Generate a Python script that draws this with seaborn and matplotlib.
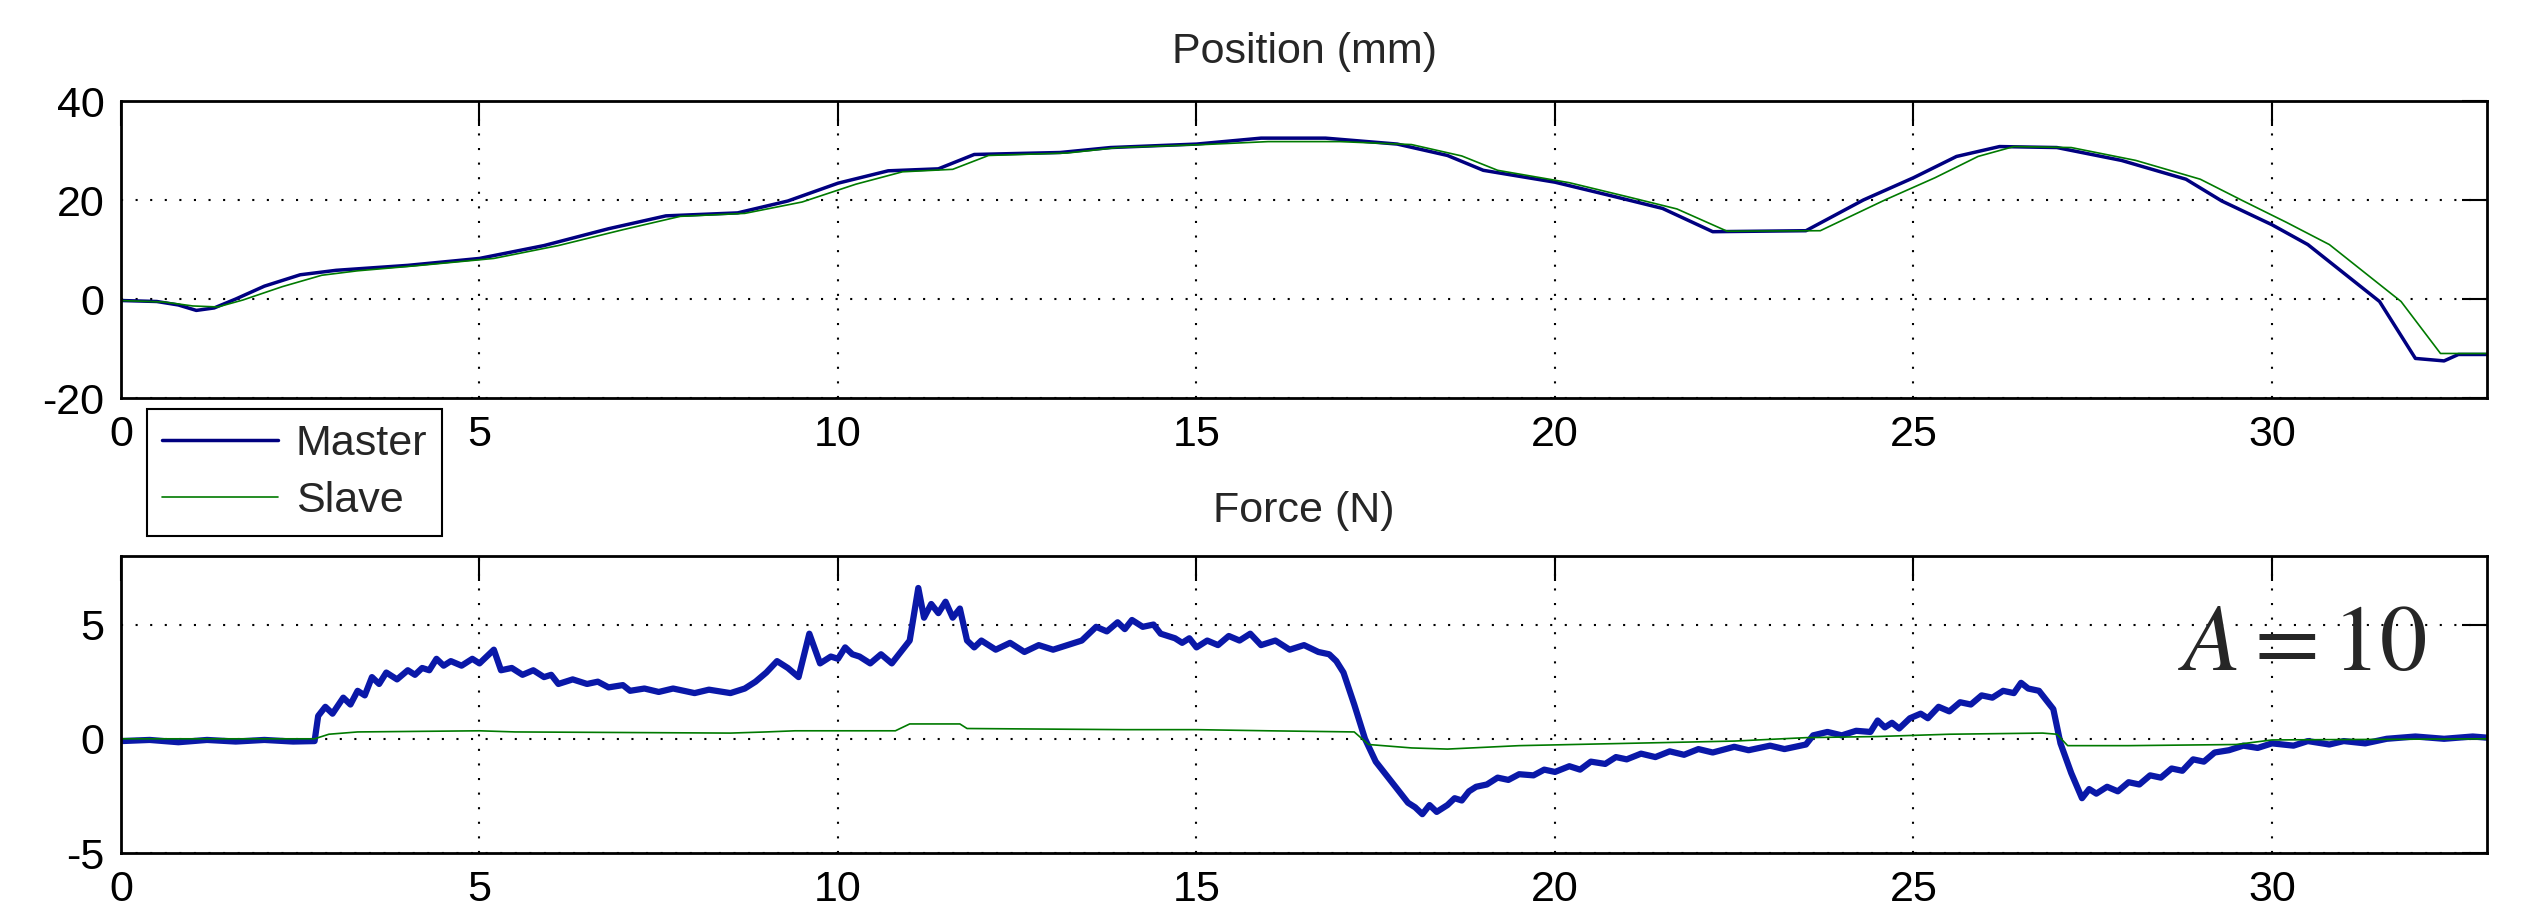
import matplotlib
matplotlib.use("Agg")
import matplotlib.pyplot as plt
import seaborn as sns

# position (mm) -- master leads the slave by a fraction of a second
pos_master_t = [0.0, 0.5, 0.8, 1.05, 1.3, 1.6, 2.0, 2.5, 3.0, 4.0, 5.0, 5.9, 6.8, 7.6, 8.6,
                9.3, 10.0, 10.7, 11.4, 11.9, 13.1, 13.8, 15.0, 15.9, 16.8, 17.8, 18.5, 19.0,
                20.0, 20.8, 21.5, 22.2, 23.5, 24.3, 25.0, 25.6, 26.2, 27.0, 27.9, 28.8, 29.3,
                30.0, 30.5, 31.5, 32.0, 32.4, 32.6, 33.0]
pos_master = [-0.3, -0.5, -1.2, -2.3, -1.8, 0.0, 2.6, 4.9, 5.8, 6.8, 8.2, 10.8, 14.2, 16.8, 17.4,
              19.8, 23.4, 25.9, 26.3, 29.2, 29.6, 30.6, 31.3, 32.5, 32.5, 31.3, 29.0, 26.0,
              23.6, 20.8, 18.3, 13.6, 13.8, 20.0, 24.5, 28.8, 30.8, 30.6, 28.0, 24.2, 19.8,
              15.0, 11.0, -0.5, -12.0, -12.5, -11.2, -11.2]

pos_slave_t = [0.0, 0.6, 1.0, 1.35, 1.7, 2.25, 2.8, 3.3, 4.1, 5.2, 6.1, 7.0, 7.8, 8.7, 9.5,
               10.25, 10.9, 11.6, 12.1, 13.2, 13.9, 15.1, 16.0, 17.0, 18.0, 18.7, 19.2, 20.2,
               21.0, 21.7, 22.4, 23.7, 24.6, 25.3, 25.9, 26.4, 27.2, 28.1, 29.0, 29.6, 30.2,
               30.8, 31.8, 32.35, 33.0]
pos_slave = [-0.3, -0.6, -1.4, -1.6, -0.2, 2.5, 4.8, 5.7, 6.7, 8.2, 10.8, 14.0, 16.7, 17.3, 19.6,
             23.2, 25.7, 26.2, 29.0, 29.5, 30.6, 31.2, 31.8, 31.8, 31.2, 28.9, 26.0, 23.5,
             20.7, 18.2, 13.7, 13.8, 20.0, 24.5, 28.8, 30.8, 30.6, 28.0, 24.2, 19.8, 15.5,
             11.0, -0.5, -11.0, -11.0]

# force (N), master is the noisy one
force_master_t = [0.0, 0.4, 0.8, 1.2, 1.6, 2.0, 2.4, 2.7,
                  2.75, 2.85, 2.95, 3.1, 3.2, 3.3, 3.4, 3.5, 3.6, 3.7, 3.85, 4.0, 4.1, 4.2,
                  4.3, 4.4, 4.5, 4.6, 4.75, 4.9, 5.0, 5.1, 5.2, 5.3, 5.45, 5.6, 5.75, 5.9,
                  6.0, 6.1, 6.3, 6.5, 6.65, 6.8, 7.0, 7.1, 7.3, 7.5, 7.7, 8.0, 8.2, 8.5,
                  8.7, 8.85, 9.0, 9.15, 9.3, 9.45, 9.6, 9.75, 9.9, 10.0, 10.1, 10.2, 10.3,
                  10.45, 10.6, 10.75, 10.9, 11.0, 11.12, 11.2, 11.3, 11.4, 11.5, 11.6, 11.7,
                  11.8, 11.9, 12.0, 12.2, 12.4, 12.6, 12.8, 13.0, 13.2, 13.4, 13.5, 13.6,
                  13.75, 13.9, 14.0, 14.1, 14.25, 14.4, 14.5, 14.7, 14.8, 14.9, 15.0, 15.15,
                  15.3, 15.45, 15.6, 15.75, 15.9, 16.1, 16.3, 16.5, 16.7, 16.85, 16.95,
                  17.05, 17.2, 17.35, 17.5, 17.7, 17.85, 17.95, 18.05, 18.15, 18.25, 18.35,
                  18.5, 18.6, 18.7, 18.8, 18.9, 19.05, 19.2, 19.35, 19.5, 19.7, 19.85, 20.0,
                  20.2, 20.35, 20.5, 20.7, 20.85, 21.0, 21.2, 21.4, 21.6, 21.8, 22.0, 22.2,
                  22.5, 22.7, 23.0, 23.2, 23.5, 23.6, 23.8, 24.0, 24.2, 24.4, 24.5, 24.6,
                  24.7, 24.8, 24.95, 25.1, 25.2, 25.35, 25.5, 25.65, 25.8, 25.95, 26.1,
                  26.25, 26.4, 26.5, 26.6, 26.75, 26.85, 26.95, 27.05, 27.2, 27.35, 27.45,
                  27.55, 27.7, 27.85, 28.0, 28.15, 28.3, 28.45, 28.6, 28.75, 28.9, 29.05,
                  29.2, 29.4, 29.6, 29.8, 30.0, 30.3, 30.5, 30.8, 31.0, 31.3, 31.6, 32.0,
                  32.4, 32.8, 33.0]
force_master = [-0.1, -0.05, -0.15, -0.05, -0.12, -0.05, -0.12, -0.1,
                1.0, 1.4, 1.1, 1.8, 1.5, 2.1, 1.9, 2.7, 2.4, 2.9, 2.6, 3.0, 2.8, 3.1,
                3.0, 3.5, 3.2, 3.4, 3.2, 3.5, 3.3, 3.6, 3.9, 3.0, 3.1, 2.8, 3.0, 2.7,
                2.8, 2.4, 2.6, 2.4, 2.5, 2.25, 2.35, 2.1, 2.2, 2.05, 2.2, 2.0, 2.15, 2.0,
                2.2, 2.5, 2.9, 3.4, 3.1, 2.7, 4.6, 3.3, 3.6, 3.5, 4.0, 3.7, 3.6,
                3.3, 3.7, 3.3, 3.9, 4.3, 6.6, 5.3, 5.9, 5.5, 6.0, 5.3, 5.7,
                4.3, 4.0, 4.3, 3.9, 4.2, 3.8, 4.1, 3.9, 4.1, 4.3, 4.6, 4.9,
                4.7, 5.1, 4.8, 5.2, 4.9, 5.0, 4.6, 4.4, 4.2, 4.4, 4.0, 4.3,
                4.1, 4.5, 4.3, 4.6, 4.1, 4.3, 3.9, 4.1, 3.8, 3.7, 3.4,
                2.9, 1.5, 0.0, -1.0, -1.8, -2.4, -2.8, -3.0, -3.3, -2.9, -3.2,
                -2.9, -2.6, -2.7, -2.3, -2.1, -2.0, -1.7, -1.8, -1.55, -1.6, -1.35, -1.45,
                -1.2, -1.35, -1.0, -1.1, -0.8, -0.9, -0.65, -0.8, -0.55, -0.7, -0.45, -0.6,
                -0.35, -0.5, -0.3, -0.45, -0.25, 0.15, 0.3, 0.15, 0.35, 0.3, 0.8, 0.5,
                0.7, 0.45, 0.9, 1.1, 0.9, 1.4, 1.2, 1.6, 1.5, 1.9, 1.8,
                2.1, 2.0, 2.45, 2.2, 2.1, 1.7, 1.3, -0.2, -1.5, -2.6, -2.2,
                -2.4, -2.1, -2.3, -1.9, -2.0, -1.6, -1.7, -1.3, -1.4, -0.9, -1.0,
                -0.6, -0.5, -0.3, -0.4, -0.2, -0.3, -0.1, -0.25, -0.1, -0.2, 0.0, 0.1,
                0.0, 0.1, 0.05]

force_slave_t = [0.0, 2.7, 2.9, 3.3, 5.0, 5.5, 8.5, 9.0, 9.4, 10.8, 11.0, 11.7, 11.8, 14.0,
                 15.0, 16.0, 17.2, 17.4, 18.0, 18.5, 19.5, 21.0, 22.5, 23.5, 24.5, 25.5, 26.8,
                 27.0, 27.15, 28.0, 29.5, 30.0, 33.0]
force_slave = [0.0, 0.0, 0.2, 0.3, 0.35, 0.3, 0.25, 0.3, 0.35, 0.35, 0.65, 0.65, 0.45, 0.4,
               0.4, 0.35, 0.3, -0.25, -0.4, -0.45, -0.3, -0.2, -0.1, 0.05, 0.1, 0.2, 0.25,
               0.2, -0.3, -0.3, -0.25, -0.05, 0.0]

x_ticks = [0, 5, 10, 15, 20, 25, 30]
pos_ticks = [-20, 0, 20, 40]
force_ticks = [-5, 0, 5]

master_color = "#000080"
master_force_color = "#0a18a8"
slave_color = "#007a00"

sns.set_style("white")
plt.rcParams["font.family"] = ["Liberation Sans Narrow", "Liberation Sans", "DejaVu Sans"]
plt.rcParams["mathtext.fontset"] = "stix"
FS = 31


def style_axes(ax, yticks, ylim):
    # matlab-ish look: boxed axes, inward ticks on all sides, dotted grid
    ax.set_xlim(0, 33)
    ax.set_ylim(*ylim)
    ax.set_xticks(x_ticks)
    ax.set_yticks(yticks)
    ax.set_xticklabels([str(v) for v in x_ticks])
    ax.set_yticklabels([str(v) for v in yticks])
    ax.tick_params(direction="in", length=18, width=1.5, labelsize=FS, pad=12,
                   top=True, right=True, colors="black")
    ax.grid(True, color="black", linestyle=(0, (1, 6)), linewidth=1.5)
    ax.set_axisbelow(True)
    for s in ax.spines.values():
        s.set_linewidth(2)
        s.set_color("black")
    ax.set_xlabel("")
    ax.set_ylabel("")


fig = plt.figure(figsize=(25.26, 9.10), dpi=100)
ax1 = fig.add_axes([0.0479, 0.5626, 0.9367, 0.3264])
ax2 = fig.add_axes([0.0479, 0.0626, 0.9367, 0.3264])

sns.lineplot(x=pos_master_t, y=pos_master, ax=ax1, color=master_color, linewidth=2.5,
             label="Master")
sns.lineplot(x=pos_slave_t, y=pos_slave, ax=ax1, color=slave_color, linewidth=1.2,
             label="Slave")
style_axes(ax1, pos_ticks, (-20, 40))
ax1.text(0.5, 1.165, "Position (mm)", transform=ax1.transAxes, ha="center", va="center",
         fontsize=FS)

sns.lineplot(x=force_master_t, y=force_master, ax=ax2, color=master_force_color,
             linewidth=4.5, legend=False)
sns.lineplot(x=force_slave_t, y=force_slave, ax=ax2, color=slave_color, linewidth=1.2,
             legend=False)
style_axes(ax2, force_ticks, (-5, 8))
ax2.text(0.5, 1.15, "Force (N)", transform=ax2.transAxes, ha="center", va="center",
         fontsize=FS)
ax2.text(0.922, 0.70, r"$A=10$", transform=ax2.transAxes, ha="center", va="center",
         fontsize=68)

# legend sits between the two panels
leg = ax1.legend(loc="upper left", bbox_to_anchor=(147 / 2526, 1 - 409 / 910),
                 bbox_transform=fig.transFigure, fontsize=FS, frameon=True, fancybox=False,
                 edgecolor="black", framealpha=1, borderaxespad=0, borderpad=0.35,
                 handlelength=2.7, handletextpad=0.4, labelspacing=0.4)
leg.get_frame().set_linewidth(1.5)

fig.savefig("out.png", dpi=100)
